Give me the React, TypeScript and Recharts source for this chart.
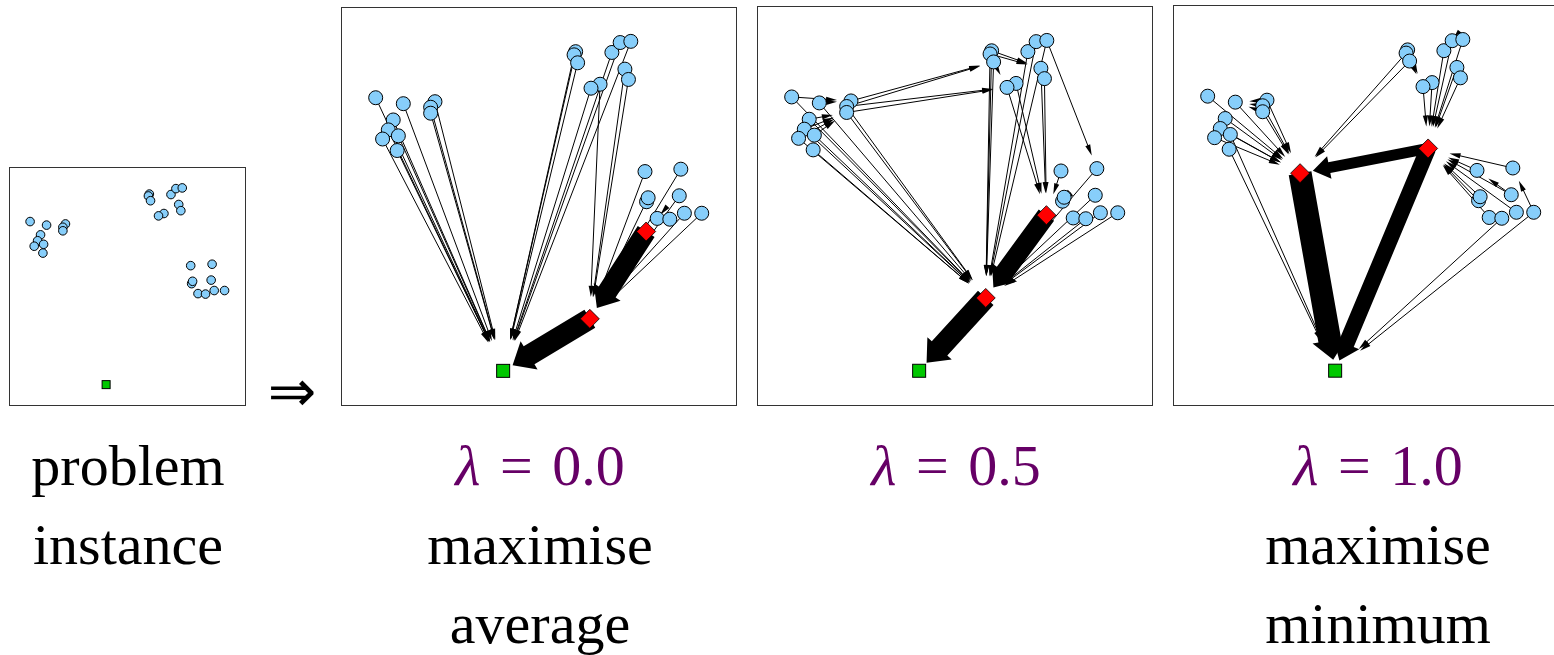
import React from 'react';
import { ScatterChart, Scatter, XAxis, YAxis, ReferenceLine } from 'recharts';

// Customer node positions (normalised 0..100 within each panel, y up)
const NODE_X = [8.55, 15.56, 23.6, 22.5, 22.5, 13.0, 11.75, 10.3, 14.3, 14.0, 59.3, 58.9, 59.8, 68.5, 70.6, 73.3, 71.8, 72.7, 65.5, 63.2, 76.9, 86.0, 77.3, 77.7, 85.6, 80.0, 83.2, 86.9, 91.3];
const NODE_Y = [77.4, 75.9, 76.4, 75.0, 73.5, 71.8, 69.3, 67.0, 67.8, 64.1, 89.0, 88.2, 86.2, 88.8, 91.3, 91.6, 84.6, 82.0, 80.8, 79.8, 58.8, 59.4, 51.2, 52.2, 52.7, 47.0, 46.8, 48.3, 48.3];
const SINK_X = [40.9];
const SINK_Y = [8.6];

// Hub (red diamond) positions per lambda
const HUB_X_L00 = [77.2, 62.9];
const HUB_Y_L00 = [43.7, 21.7];
const HUB_X_L05 = [73.2, 57.8];
const HUB_Y_L05 = [47.7, 26.9];
const HUB_X_L10 = [32.0, 64.5];
const HUB_Y_L10 = [58.1, 64.3];

// Edges: [from, to, flow width]; numbers = customer nodes (1-based), 'A'/'B' hubs, 'S' sink
type Id = number | 'A' | 'B' | 'S';
const EDGES_L00: [Id, Id, number][] = [
  [1, 'S', 1], [2, 'S', 1], [3, 'S', 1], [4, 'S', 1], [5, 'S', 1], [6, 'S', 1], [7, 'S', 1], [8, 'S', 1], [9, 'S', 1], [10, 'S', 1],
  [11, 'S', 1], [12, 'S', 1], [13, 'S', 1], [14, 'S', 1], [15, 'S', 1], [16, 'S', 1], [20, 'S', 1],
  [17, 'B', 1], [18, 'B', 1], [19, 'B', 1],
  [21, 'B', 1], [24, 'B', 1], [22, 'B', 1], [25, 'B', 1], [28, 'B', 1], [29, 'B', 1],
  [23, 'A', 1], [26, 'A', 1], [27, 'A', 1],
  ['A', 'B', 20], ['B', 'S', 21],
];
const EDGES_L05: [Id, Id, number][] = [
  [1, 3, 1], [2, 3, 1], [6, 5, 1], [7, 5, 1], [8, 5, 1], [9, 5, 1],
  [3, 13, 1], [4, 13, 1], [4, 20, 1], [5, 20, 1],
  [1, 'B', 1], [2, 'B', 1], [4, 'B', 1], [5, 'B', 1], [6, 'B', 1], [7, 'B', 1], [8, 'B', 1], [9, 'B', 1], [10, 'B', 1],
  [11, 'B', 1], [12, 'B', 1], [13, 'B', 1], [14, 'B', 1], [15, 'B', 1], [16, 'B', 1],
  [11, 17, 1], [12, 17, 1], [13, 20, 1], [16, 22, 1],
  [17, 'A', 1], [18, 'A', 1], [19, 'A', 1], [20, 'A', 1],
  [21, 'A', 1], [23, 'A', 1], [24, 'A', 1], [26, 'A', 1],
  [22, 'B', 1], [25, 'B', 1], [27, 'B', 1], [28, 'B', 1], [29, 'B', 1],
  ['A', 'B', 19], ['B', 'S', 21],
];
const EDGES_L10: [Id, Id, number][] = [
  [3, 2, 1], [4, 2, 1], [5, 2, 1],
  [1, 'A', 1], [2, 'A', 1], [3, 'A', 1], [4, 'A', 1], [5, 'A', 1], [6, 'A', 1], [7, 'A', 1], [8, 'A', 1], [9, 'A', 1],
  [9, 'S', 1], [10, 'S', 1],
  [12, 'A', 1], [13, 'A', 1], [11, 20, 1], [13, 20, 1], [15, 14, 1],
  [14, 'B', 1], [15, 'B', 1], [16, 'B', 1], [17, 'B', 1], [18, 'B', 1], [19, 'B', 1], [20, 'B', 1],
  [21, 'B', 1], [22, 'B', 1], [23, 'B', 1], [24, 'B', 1], [25, 'B', 1], [26, 'B', 1], [28, 'B', 1],
  [29, 22, 1], [25, 21, 1],
  [27, 'S', 1], [29, 'S', 1],
  ['B', 'A', 11], ['A', 'S', 23], ['B', 'S', 16],
];

const NODE_FILL = '#87CEFA';
const HUB_FILL = '#FF0000';
const SINK_FILL = '#00C800';
const PURPLE = '#660066';
const SERIF = '"Liberation Serif", "Times New Roman", serif';

type PanelProps = {
  left: number; top: number; width: number; height: number;
  hubX?: number[]; hubY?: number[]; edges?: [Id, Id, number][];
  nodeR: number; sinkSide: number;
};

function arrow(p: any, w: number, gap: number) {
  const { x1, y1, x2, y2 } = p;
  const dx = x2 - x1, dy = y2 - y1;
  const L = Math.hypot(dx, dy) || 1;
  const ux = dx / L, uy = dy / L, nx = -uy, ny = ux;
  const tx = x2 - ux * gap, ty = y2 - uy * gap;
  if (w <= 1.5) {
    const hl = 11, hw = 2.6;
    const bx = tx - ux * hl, by = ty - uy * hl;
    return (
      <g>
        <line x1={x1} y1={y1} x2={bx + ux * 2} y2={by + uy * 2} stroke="#000" strokeWidth={w} />
        <polygon points={`${tx},${ty} ${bx + nx * hw},${by + ny * hw} ${bx - nx * hw},${by - ny * hw}`} fill="#000" />
      </g>
    );
  }
  const hl = 14 + w * 0.25;
  const hw = w / 2 + 6;
  const bx = tx - ux * hl, by = ty - uy * hl;
  const s = w / 2;
  const pts = [
    [x1 + nx * s, y1 + ny * s], [bx + nx * s, by + ny * s], [bx + nx * hw, by + ny * hw], [tx, ty],
    [bx - nx * hw, by - ny * hw], [bx - nx * s, by - ny * s], [x1 - nx * s, y1 - ny * s],
  ].map((q) => `${q[0]},${q[1]}`).join(' ');
  return <polygon points={pts} fill="#000" />;
}

function Panel({ left, top, width, height, hubX, hubY, edges, nodeR, sinkSide }: PanelProps) {
  const nodes = NODE_X.map((x, i) => ({ x, y: NODE_Y[i] }));
  const sink = SINK_X.map((x, i) => ({ x, y: SINK_Y[i] }));
  const hubs = hubX ? hubX.map((x, i) => ({ x, y: hubY![i] })) : [];
  const pos = (id: Id) => {
    if (id === 'S') return sink[0];
    if (id === 'A') return hubs[0];
    if (id === 'B') return hubs[1];
    return nodes[(id as number) - 1];
  };
  const gapFor = (t: Id, w: number) => {
    if (t === 'S') return w > 1.5 ? 11 : 32;
    if (t === 'A' || t === 'B') return w > 1.5 ? 13 : 22;
    return 14;
  };
  const cw = width - 2, ch = height - 2;
  return (
    <div style={{ position: 'absolute', left, top, width, height, border: '1px solid #333', boxSizing: 'border-box', background: '#fff' }}>
      <ScatterChart width={cw} height={ch} margin={{ top: 0, right: 0, bottom: 0, left: 0 }}>
        <XAxis type="number" dataKey="x" domain={[0, 100]} hide allowDataOverflow />
        <YAxis type="number" dataKey="y" domain={[0, 100]} hide allowDataOverflow />
        {(edges || []).map(([f, t, w], i) => (
          <ReferenceLine
            key={`e${i}`}
            segment={[pos(f), pos(t)]}
            ifOverflow="visible"
            stroke="#000"
            shape={(p: any) => arrow(p, w, gapFor(t, w))}
          />
        ))}
        <Scatter
          data={nodes}
          isAnimationActive={false}
          shape={(p: any) => <circle cx={p.cx} cy={p.cy} r={nodeR} fill={NODE_FILL} stroke="#000" strokeWidth={1} />}
        />
        {hubs.length > 0 && (
          <Scatter
            data={hubs}
            isAnimationActive={false}
            shape={(p: any) => {
              const d = 9.5;
              return <polygon points={`${p.cx},${p.cy - d} ${p.cx + d},${p.cy} ${p.cx},${p.cy + d} ${p.cx - d},${p.cy}`} fill={HUB_FILL} stroke="#000" strokeWidth={0.8} />;
            }}
          />
        )}
        <Scatter
          data={sink}
          isAnimationActive={false}
          shape={(p: any) => <rect x={p.cx - sinkSide / 2} y={p.cy - sinkSide / 2} width={sinkSide} height={sinkSide} fill={SINK_FILL} stroke="#000" strokeWidth={1} />}
        />
      </ScatterChart>
    </div>
  );
}

const LABELS_TOP = ['problem', '', '', ''];
const LAMBDAS = ['', '0.0', '0.5', '1.0'];
const LABELS_MID = ['instance', 'maximise', '', 'maximise'];
const LABELS_BOT = ['', 'average', '', 'minimum'];
const LABEL_CX = [128, 540, 956, 1378];

export default function App() {
  return (
    <div style={{ position: 'absolute', left: 0, top: 0, width: 1554, height: 655, background: '#fff', overflow: 'hidden' }}>
      <Panel left={9} top={167} width={237} height={239} nodeR={4.3} sinkSide={8} />
      <Panel left={341} top={7} width={396} height={399} hubX={HUB_X_L00} hubY={HUB_Y_L00} edges={EDGES_L00} nodeR={7} sinkSide={13} />
      <Panel left={757} top={6} width={396} height={400} hubX={HUB_X_L05} hubY={HUB_Y_L05} edges={EDGES_L05} nodeR={7} sinkSide={13} />
      <Panel left={1173} top={5} width={396} height={401} hubX={HUB_X_L10} hubY={HUB_Y_L10} edges={EDGES_L10} nodeR={7} sinkSide={13} />
      <svg width={1554} height={655} style={{ position: 'absolute', left: 0, top: 0, pointerEvents: 'none' }}>
        <text x={292} y={411} textAnchor="middle" fontFamily='"DejaVu Sans", sans-serif' fontSize={58} fill="#000">⇒</text>
        {LABEL_CX.map((cx, i) => (
          <g key={i} fontFamily={SERIF} fontSize={58} textAnchor="middle">
            {LABELS_TOP[i] && <text x={cx} y={485} fill="#000">{LABELS_TOP[i]}</text>}
            {LAMBDAS[i] && (
              <text x={cx} y={485} fill={PURPLE}>
                <tspan fontStyle="italic">λ</tspan>
                <tspan dx={5}>{' ='}</tspan>
                <tspan dx={5}>{' ' + LAMBDAS[i]}</tspan>
              </text>
            )}
            {LABELS_MID[i] && <text x={cx} y={564} fill="#000">{LABELS_MID[i]}</text>}
            {LABELS_BOT[i] && <text x={cx} y={643} fill="#000">{LABELS_BOT[i]}</text>}
          </g>
        ))}
      </svg>
    </div>
  );
}
